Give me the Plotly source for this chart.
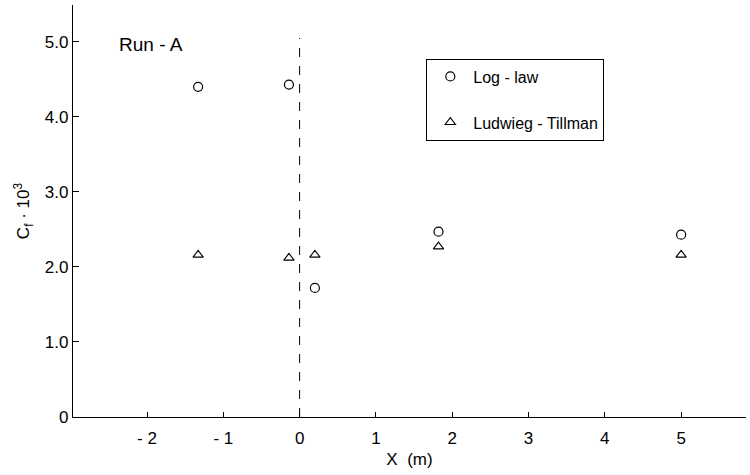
import plotly.graph_objects as go

# Skin-friction coefficient along the channel, Run A
x_pos = [-1.33, -0.14, 0.2, 1.82, 5.0]
cf_log_law = [4.40, 4.43, 1.72, 2.47, 2.43]
cf_ludwieg_tillman = [2.16, 2.12, 2.16, 2.27, 2.16]

x_ticks = [-2, -1, 0, 1, 2, 3, 4, 5]
x_tick_text = ["- 2", "- 1", "0", "1", "2", "3", "4", "5"]
y_ticks = [0, 1, 2, 3, 4, 5]
y_tick_text = ["0", "1.0", "2.0", "3.0", "4.0", "5.0"]

FONT = "Liberation Sans, Arial, sans-serif"

fig = go.Figure()
fig.add_trace(go.Scatter(
    x=x_pos, y=cf_log_law, mode="markers", name="Log - law", legendgroup="a",
    marker=dict(symbol="circle-open", size=9, color="black", line=dict(width=1.2)),
))
fig.add_trace(go.Scatter(
    x=x_pos, y=cf_ludwieg_tillman, mode="markers", name="Ludwieg - Tillman", legendgroup="b",
    marker=dict(symbol="triangle-up-open", size=9, color="black", line=dict(width=1.1)),
))

# vertical dashed reference line at X = 0
fig.add_shape(type="line", xref="x", yref="y", x0=0, x1=0, y0=0, y1=5.05,
              line=dict(color="black", width=1, dash="dash"))

fig.add_annotation(text="Run - A", xref="paper", yref="paper", x=0.065, y=0.905,
                   xanchor="left", yanchor="middle", showarrow=False,
                   font=dict(family=FONT, size=19, color="black"))

fig.update_layout(
    width=750, height=475,
    margin=dict(l=73, r=4, t=5, b=58),
    paper_bgcolor="white", plot_bgcolor="white",
    font=dict(family=FONT, size=17, color="black"),
    showlegend=True,
    legend=dict(x=0.525, y=0.87, xanchor="left", yanchor="top",
                bordercolor="black", borderwidth=1, bgcolor="white",
                font=dict(family=FONT, size=16), tracegroupgap=22,
                itemwidth=36),
    xaxis=dict(range=[-2.97, 5.85], tickvals=x_ticks, ticktext=x_tick_text,
               showgrid=False, zeroline=False, showline=True, linecolor="black",
               linewidth=1.2, ticks="inside", ticklen=5, tickcolor="black",
               tickfont=dict(size=17), ticklabelstandoff=5,
               title=dict(text="X  (m)", standoff=6, font=dict(size=17))),
    yaxis=dict(range=[0, 5.49], tickvals=y_ticks, ticktext=y_tick_text,
               showgrid=False, zeroline=False, showline=True, linecolor="black",
               linewidth=1.2, ticks="inside", ticklen=6, tickcolor="black",
               tickfont=dict(size=17),
               title=dict(text="C<sub>f</sub> · 10<sup>3</sup>", standoff=10,
                          font=dict(size=17))),
    yaxis2=dict(range=[0, 5.49], overlaying="y", side="right", anchor="x",
                tickvals=[1, 2, 3, 4], showticklabels=False, ticks="inside",
                ticklen=4, tickcolor="black", showgrid=False, zeroline=False,
                showline=False),
)

fig.write_html("out.html")
